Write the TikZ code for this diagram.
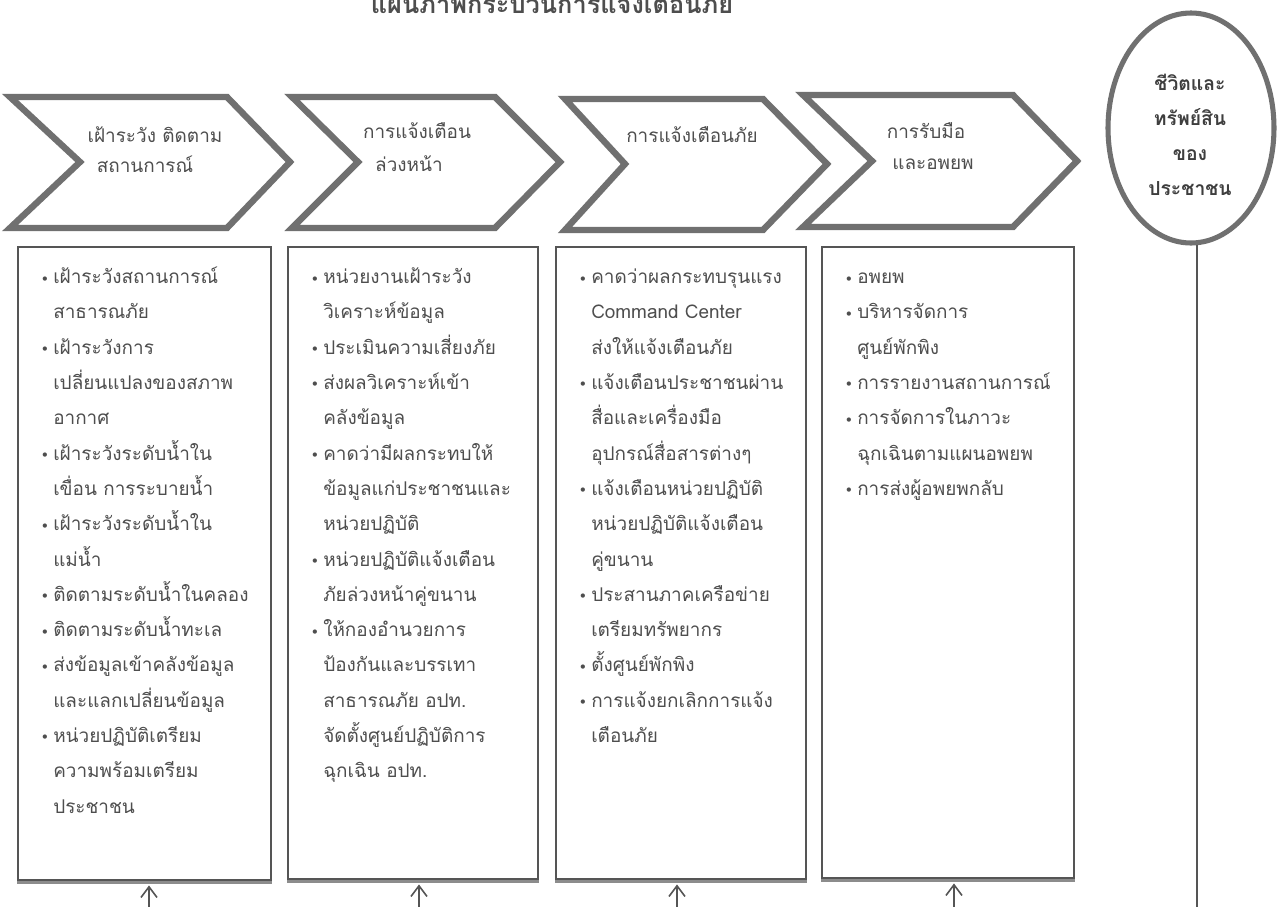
\documentclass[tikz,border=0pt]{standalone}
\usepackage{fontspec}
\newfontfamily\thai[Script=Thai]{Loma}
\newfontfamily\dejavu{DejaVu Sans}
\usetikzlibrary{arrows.meta,shapes.geometric,fit}
\definecolor{chev}{RGB}{112,112,112}
\definecolor{txt}{RGB}{78,78,78}
\definecolor{boxline}{RGB}{85,85,85}
\newcommand{\bul}{\llap{\raisebox{-0.3pt}{\dejavu\fontsize{11}{11}\selectfont •}\hspace{3pt}}}
\newcommand{\boxtext}[3]{\foreach \t [count=\i from 0] in {#3} \node[ln] (#1-\i) at (#2, {279+35.3*\i}) {\t};}
\begin{document}
\begin{tikzpicture}[x=0.75pt,y=-0.75pt,
  chevron/.style={draw=chev, line width=4.8pt, line join=miter, fill=white},
  cbox/.style={draw=boxline, line width=1.2pt, inner sep=0pt},
  shadowline/.style={draw=black!45, line width=2.2pt},
  ln/.style={anchor=west, inner sep=0pt, text height=11pt, text depth=4pt, font=\thai\fontsize{14.2}{14.2}\selectfont, text=txt},
  clab/.style={inner sep=0pt, text height=11pt, text depth=4pt, font=\thai\fontsize{14.2}{14.2}\selectfont, text=txt},
  elab/.style={inner sep=0pt, align=center, font=\thai\bfseries\fontsize{14.5}{26.3}\selectfont, text=txt!80!black},
  arr/.style={draw=boxline, line width=1.2pt, -{Straight Barb[length=8pt,width=12pt]}, shorten >=3.5pt},
  vline/.style={draw=boxline, line width=1.5pt}
]
\useasboundingbox (0,0) rectangle (1279,907);
\fill[white] (0,0) rectangle (1279,907);

% title (partly cut at the top, as in the reference)
\node[anchor=base, inner sep=0pt, font=\thai\bfseries\fontsize{19}{19}\selectfont, text=txt] (title) at (552,13) {แผนภาพกระบวนการแจ้งเตือนภัย};

% chevrons
\draw[chevron] (10,97) -- (227,97) -- (290,162) -- (227,228) -- (10,228) -- (80,162) -- cycle;
\draw[chevron] (292,97) -- (495,97) -- (560,162) -- (495,228) -- (292,228) -- (358,162) -- cycle;
\draw[chevron] (565,99) -- (763,99) -- (827,164) -- (763,230) -- (565,230) -- (625,164) -- cycle;
\draw[chevron] (803,95) -- (1013,95) -- (1077,161) -- (1013,227) -- (803,227) -- (872,161) -- cycle;

\node[clab] (c1a) at (155,138) {เฝ้าระวัง ติดตาม};
\node[clab] (c1b) at (145,168) {สถานการณ์};
\node[clab] (c2a) at (417,134) {การแจ้งเตือน};
\node[clab] (c2b) at (409,167) {ล่วงหน้า};
\node[clab] (c3a) at (692,138) {การแจ้งเตือนภัย};
\node[clab] (c4a) at (926,134) {การรับมือ};
\node[clab] (c4b) at (933,165) {และอพยพ};

% ellipse
\node[ellipse, draw=chev, line width=3.8pt, minimum width=124.5pt, minimum height=172.5pt, inner sep=0pt] (ell) at (1191,128) {};
\node[elab] (etext) at (1190,135) {ชีวิตและ\\ทรัพย์สิน\\ของ\\ประชาชน};

% boxes
\node[cbox, fit={(18,247) (271,880)}] (b1) {};
\node[cbox, fit={(288,247) (538,879)}] (b2) {};
\node[cbox, fit={(556,247) (806,879)}] (b3) {};
\node[cbox, fit={(822,247) (1074,878)}] (b4) {};
\foreach \b in {b1,b2,b3,b4}
  \draw[shadowline] ([yshift=-1.6pt]\b.south west) -- ([yshift=-1.6pt]\b.south east);

\boxtext{t1}{53}{{\bul เฝ้าระวังสถานการณ์},{สาธารณภัย},{\bul เฝ้าระวังการ},{เปลี่ยนแปลงของสภาพ},{อากาศ},{\bul เฝ้าระวังระดับน้ำใน},{เขื่อน การระบายน้ำ},{\bul เฝ้าระวังระดับน้ำใน},{แม่น้ำ},{\bul ติดตามระดับน้ำในคลอง},{\bul ติดตามระดับน้ำทะเล},{\bul ส่งข้อมูลเข้าคลังข้อมูล},{และแลกเปลี่ยนข้อมูล},{\bul หน่วยปฏิบัติเตรียม},{ความพร้อมเตรียม},{ประชาชน}}

\boxtext{t2}{323}{{\bul หน่วยงานเฝ้าระวัง},{วิเคราะห์ข้อมูล},{\bul ประเมินความเสี่ยงภัย},{\bul ส่งผลวิเคราะห์เข้า},{คลังข้อมูล},{\bul คาดว่ามีผลกระทบให้},{ข้อมูลแก่ประชาชนและ},{หน่วยปฏิบัติ},{\bul หน่วยปฏิบัติแจ้งเตือน},{ภัยล่วงหน้าคู่ขนาน},{\bul ให้กองอำนวยการ},{ป้องกันและบรรเทา},{สาธารณภัย อปท.},{จัดตั้งศูนย์ปฏิบัติการ},{ฉุกเฉิน อปท.}}

\boxtext{t3}{591}{{\bul คาดว่าผลกระทบรุนแรง},{Command Center},{ส่งให้แจ้งเตือนภัย},{\bul แจ้งเตือนประชาชนผ่าน},{สื่อและเครื่องมือ},{อุปกรณ์สื่อสารต่างๆ},{\bul แจ้งเตือนหน่วยปฏิบัติ},{หน่วยปฏิบัติแจ้งเตือน},{คู่ขนาน},{\bul ประสานภาคเครือข่าย},{เตรียมทรัพยากร},{\bul ตั้งศูนย์พักพิง},{\bul การแจ้งยกเลิกการแจ้ง},{เตือนภัย}}

\boxtext{t4}{857}{{\bul อพยพ},{\bul บริหารจัดการ},{ศูนย์พักพิง},{\bul การรายงานสถานการณ์},{\bul การจัดการในภาวะ},{ฉุกเฉินตามแผนอพยพ},{\bul การส่งผู้อพยพกลับ}}

% arrows from below
\coordinate (a1) at (149,907);
\coordinate (a2) at (419,907);
\coordinate (a3) at (677,907);
\coordinate (a4) at (954,907);
\draw[arr] (a1) -- (a1 |- b1.south);
\draw[arr] (a2) -- (a2 |- b2.south);
\draw[arr] (a3) -- (a3 |- b3.south);
\draw[arr] (a4) -- (a4 |- b4.south);

% line down from the ellipse
\coordinate (vb) at (1197,907);
\draw[vline] (ell.-87) -- (ell.-87 |- vb);
\end{tikzpicture}
\end{document}
